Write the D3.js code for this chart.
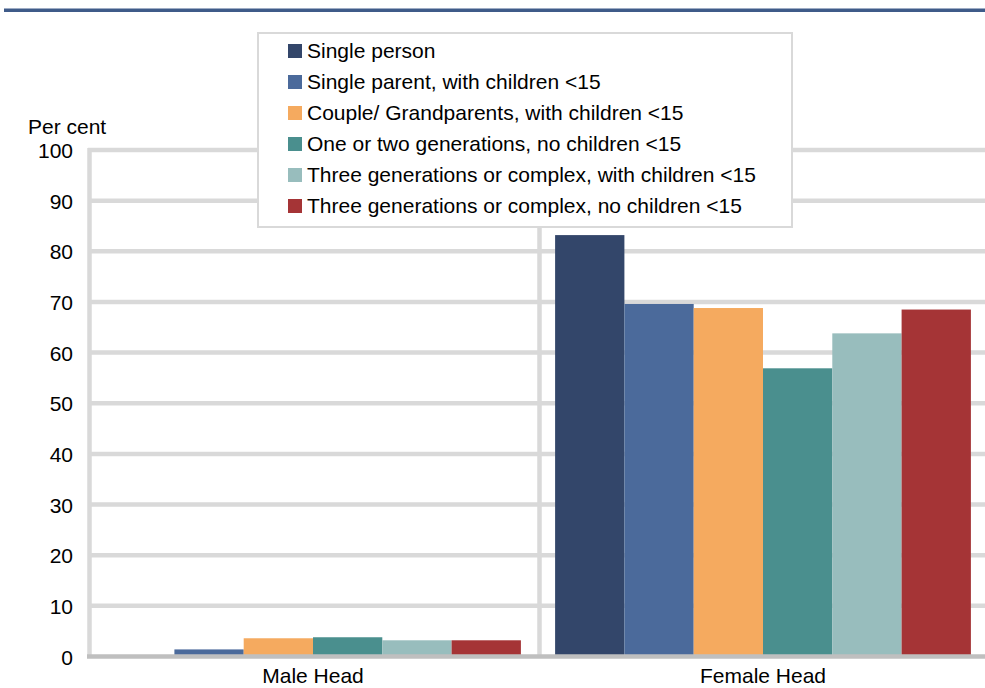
<!DOCTYPE html>
<html><head><meta charset="utf-8">
<script src="https://cdn.jsdelivr.net/npm/d3@7"></script>
<style>body{margin:0;background:#fff}svg{display:block;font-family:"Liberation Sans",Arial,sans-serif}</style>
</head><body><svg id="c" width="985" height="688"></svg>
<script>
const categories = ["Male Head", "Female Head"];
const series = ["Single person", "Single parent, with children <15", "Couple/ Grandparents, with children <15", "One or two generations, no children <15", "Three generations or complex, with children <15", "Three generations or complex, no children <15"];
const colors = ["#33466a", "#4b6a9b", "#f5aa5f", "#4a8f8e", "#98bdbd", "#a53436"];
const maleValues = [0, 1.4, 3.6, 3.8, 3.2, 3.2];
const femaleValues = [83.2, 69.6, 68.8, 56.9, 63.8, 68.5];
const yTicks = [0, 10, 20, 30, 40, 50, 60, 70, 80, 90, 100];
const yLabel = "Per cent";

const FS = 21;
const values = [maleValues, femaleValues];
const svg = d3.select("#c");
const L = 88, R = 988, T = 150, B = 656.5;

const x0 = d3.scaleBand().domain(categories).range([L, R]).padding(0);
const x1 = d3.scaleBand().domain(series).range([x0.bandwidth() * 0.038, x0.bandwidth() * 0.962]).padding(0);
const y = d3.scaleLinear().domain([0, 100]).range([B, T]);

// top rule
svg.append("rect").attr("x", 4).attr("y", 8.5).attr("width", 981).attr("height", 3.5).attr("fill", "#3f5b89");

// horizontal gridlines
svg.append("g").selectAll("line").data(yTicks.filter(d => d > 0)).join("line")
  .attr("x1", L).attr("x2", 985).attr("y1", d => y(d)).attr("y2", d => y(d))
  .attr("stroke", "#d9d9d9").attr("stroke-width", 4.5);
// vertical gridlines at category boundaries
svg.append("g").selectAll("line").data([L, x0(categories[1])]).join("line")
  .attr("x1", d => d + 1.5).attr("x2", d => d + 1.5).attr("y1", T - 2).attr("y2", B)
  .attr("stroke", "#d9d9d9").attr("stroke-width", 4.5);

// bars
const g = svg.append("g");
categories.forEach((c, ci) => {
  g.append("g").attr("transform", `translate(${x0(c)},0)`)
    .selectAll("rect").data(series.map((s, si) => ({s, v: values[ci][si], col: colors[si]}))).join("rect")
    .attr("x", d => x1(d.s)).attr("width", x1.bandwidth())
    .attr("y", d => y(d.v)).attr("height", d => y(0) - y(d.v))
    .attr("fill", d => d.col);
});

// baseline
svg.append("line").attr("x1", L - 1).attr("x2", 985).attr("y1", B).attr("y2", B)
  .attr("stroke", "#bfbfbf").attr("stroke-width", 4.5);

// y axis labels
const yAxis = d3.axisLeft(y).tickValues(yTicks).tickSize(0).tickPadding(0);
const ya = svg.append("g").attr("transform", `translate(73,0)`).call(yAxis);
ya.select(".domain").remove();
ya.selectAll("text").attr("font-size", FS).attr("fill", "#000").attr("font-family", "Liberation Sans, Arial, sans-serif").attr("dy", "0.36em");

svg.append("text").attr("x", 28).attr("y", 134).attr("font-size", FS).text(yLabel);

// x axis labels
const xAxis = d3.axisBottom(x0).tickSize(0).tickPadding(0);
const xa = svg.append("g").attr("transform", `translate(0,682.5)`).call(xAxis);
xa.select(".domain").remove();
xa.selectAll("text").attr("font-size", FS).attr("fill", "#000").attr("font-family", "Liberation Sans, Arial, sans-serif").attr("y", 0).attr("dy", 0);

// legend
const lg = svg.append("g");
lg.append("rect").attr("x", 258).attr("y", 33).attr("width", 534).attr("height", 194)
  .attr("fill", "#fff").attr("stroke", "#d9d9d9").attr("stroke-width", 2);
const items = lg.selectAll("g.item").data(series).join("g").attr("class", "item")
  .attr("transform", (d, i) => `translate(288,${44 + 31 * i})`);
items.append("rect").attr("width", 14).attr("height", 14).attr("fill", (d, i) => colors[i]);
items.append("text").attr("x", 19).attr("y", 14).attr("font-size", FS).text(d => d);
</script></body></html>
